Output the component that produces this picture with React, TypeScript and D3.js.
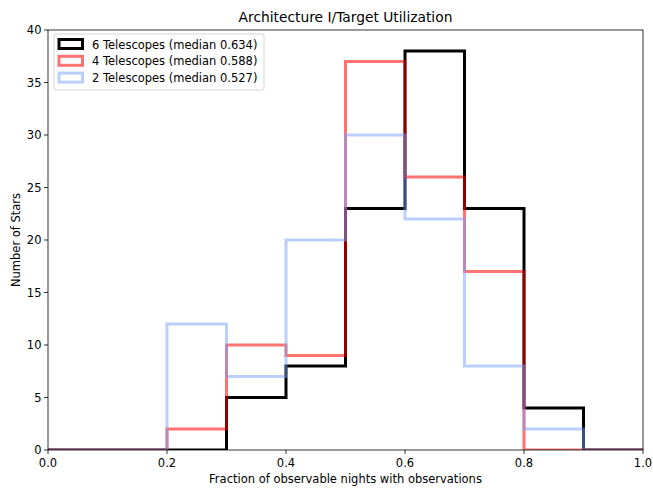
import React from "react";
import * as d3 from "d3";

const binEdges = [0, 0.1, 0.2, 0.3, 0.4, 0.5, 0.6, 0.7, 0.8, 0.9, 1.0];
const tel6 = [0, 0, 0, 5, 8, 23, 38, 23, 4, 0];
const tel4 = [0, 0, 2, 10, 9, 37, 26, 17, 0, 0];
const tel2 = [0, 0, 12, 7, 20, 30, 22, 8, 2, 0];
const seriesLabels = [
  "6 Telescopes (median 0.634)",
  "4 Telescopes (median 0.588)",
  "2 Telescopes (median 0.527)",
];
const xTicks = [0, 0.2, 0.4, 0.6, 0.8, 1.0];
const yTicks = [0, 5, 10, 15, 20, 25, 30, 35, 40];

const W = 653;
const H = 489;
const m = { left: 48, right: 643, top: 30, bottom: 450 };

const series = [
  { values: tel6, color: "#000000", opacity: 1 },
  { values: tel4, color: "#ff0000", opacity: 0.55 },
  { values: tel2, color: "rgb(120,160,255)", opacity: 0.5 },
];

const App = () => {
  const x = d3.scaleLinear().domain([0, 1]).range([m.left, m.right]);
  const y = d3.scaleLinear().domain([0, 40]).range([m.bottom, m.top]);

  // 阶梯直方图轮廓
  const stepPath = (vals: number[]) => {
    const pts: [number, number][] = [[x(binEdges[0]), y(0)]];
    vals.forEach((v, i) => {
      pts.push([x(binEdges[i]), y(v)]);
      pts.push([x(binEdges[i + 1]), y(v)]);
    });
    pts.push([x(binEdges[binEdges.length - 1]), y(0)]);
    return d3.line()(pts) || "";
  };

  const font = "DejaVu Sans, sans-serif";
  const fs = 11.5;

  return (
    <svg width={W} height={H} style={{ position: "absolute", left: 0, top: 0 }}>
      <rect width={W} height={H} fill="#fff" />
      <defs>
        <clipPath id="plotClip">
          <rect x={m.left} y={m.top} width={m.right - m.left} height={m.bottom - m.top} />
        </clipPath>
      </defs>
      <g clipPath="url(#plotClip)">
        {series.map((s, i) => (
          <path
            key={i}
            d={stepPath(s.values)}
            fill="none"
            stroke={s.color}
            strokeOpacity={s.opacity}
            strokeWidth={3}
            strokeLinejoin="miter"
          />
        ))}
      </g>
      <rect
        x={m.left}
        y={m.top}
        width={m.right - m.left}
        height={m.bottom - m.top}
        fill="none"
        stroke="#000"
        strokeWidth={0.8}
      />
      {xTicks.map((t) => (
        <g key={t}>
          <line x1={x(t)} x2={x(t)} y1={m.bottom} y2={m.bottom + 4} stroke="#000" strokeWidth={0.8} />
          <text x={x(t)} y={m.bottom + 17} textAnchor="middle" fontFamily={font} fontSize={fs}>
            {t.toFixed(1)}
          </text>
        </g>
      ))}
      {yTicks.map((t) => (
        <g key={t}>
          <line x1={m.left - 4} x2={m.left} y1={y(t)} y2={y(t)} stroke="#000" strokeWidth={0.8} />
          <text x={m.left - 6.5} y={y(t) + 4} textAnchor="end" fontFamily={font} fontSize={fs}>
            {t}
          </text>
        </g>
      ))}
      <text x={(m.left + m.right) / 2} y={m.top - 8} textAnchor="middle" fontFamily={font} fontSize={13.8}>
        Architecture I/Target Utilization
      </text>
      <text x={(m.left + m.right) / 2} y={m.bottom + 33} textAnchor="middle" fontFamily={font} fontSize={fs}>
        Fraction of observable nights with observations
      </text>
      <text
        transform={`translate(${20},${(m.top + m.bottom) / 2}) rotate(-90)`}
        textAnchor="middle"
        fontFamily={font}
        fontSize={fs}
      >
        Number of Stars
      </text>
      <g>
        <rect x={54} y={34} width={210} height={56} rx={2} fill="#fff" fillOpacity={0.8} stroke="#ccc" strokeWidth={0.8} />
        {series.map((s, i) => (
          <g key={i}>
            <rect
              x={59}
              y={39.5 + i * 16.8}
              width={23.5}
              height={9}
              fill="none"
              stroke={s.color}
              strokeOpacity={s.opacity}
              strokeWidth={3}
            />
            <text x={92} y={48.5 + i * 16.8} fontFamily={font} fontSize={fs}>
              {seriesLabels[i]}
            </text>
          </g>
        ))}
      </g>
    </svg>
  );
};

export default App;
